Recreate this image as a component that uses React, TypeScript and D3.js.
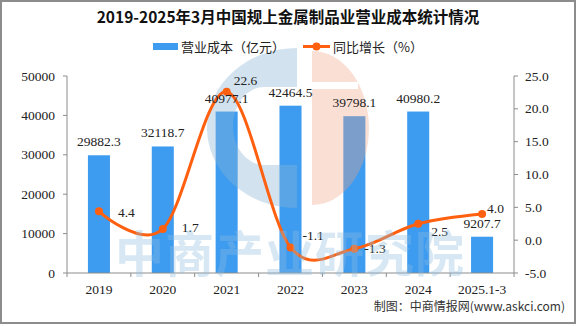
import React from "react";
import * as d3 from "d3";

const categories = ["2019", "2020", "2021", "2022", "2023", "2024", "2025.1-3"];
const costValues = [29882.3, 32118.7, 40977.1, 42464.5, 39798.1, 40980.2, 9207.7];
const growthValues = [4.4, 1.7, 22.6, -1.1, -1.3, 2.5, 4.0];
const leftTicks = [0, 10000, 20000, 30000, 40000, 50000];
const rightTicks = [-5, 0, 5, 10, 15, 20, 25];
// label placement tweaks (dx, dy) relative to point
const growthLabelOffsets: [number, number][] = [[19, 1], [19, -2], [7, -11], [12, -12], [10, 0], [13, 8], [5, -5]];

const W = 576, H = 326;
const left = 67, right = 514, top = 76, bottom = 273;
const numFont = '"Liberation Serif", "Noto Sans CJK SC", serif';
const cjkFont = '"Noto Sans CJK SC", "Liberation Serif", sans-serif';

export default function App() {
  const x = d3.scaleBand<string>().domain(categories).range([left, right]).paddingInner(0.655).paddingOuter(0.3275);
  const yL = d3.scaleLinear().domain([0, 50000]).range([bottom, top]);
  const yR = d3.scaleLinear().domain([-5, 25]).range([bottom, top]);
  const cx = (c: string) => (x(c) as number) + x.bandwidth() / 2;
  const pts: [number, number][] = categories.map((c, i) => [cx(c), yR(growthValues[i])]);
  const line = d3.line().curve(d3.curveCardinal.tension(0))(pts) as string;
  const step = x.step();
  const boundaries = d3.range(categories.length + 1).map((i) => left + i * step);

  const bluePath = "M297,48 A90,80 0 0,0 297,208 Z M297,87 L264,87 A31,39 0 0,0 264,165 L297,165 Z";
  const orangePath = "M312,51 A57,77 0 0,1 312,205 Z M312,82 L358,82 L358,89 L312,89 Z";

  return (
    <svg width={W} height={H} style={{ position: "absolute", left: 0, top: 0, background: "#fff" }}>
      <rect x={1} y={1} width={W - 2} height={H - 4} fill="#fff" stroke="#8c8c8c" strokeWidth={2} />

      {/* bars */}
      {categories.map((c, i) => (
        <rect key={c} x={x(c)} y={yL(costValues[i])} width={x.bandwidth()} height={bottom - yL(costValues[i])} fill="#3d9bf0" />
      ))}

      {/* watermark logo */}
      <path d={bluePath} fill="#8ab6d4" fillRule="evenodd" opacity={0.38} />
      <path d={orangePath} fill="#f2a487" fillRule="evenodd" opacity={0.35} />

      <text x={288} y={23} textAnchor="middle" fontFamily={cjkFont} fontWeight={700} fontSize={15.5} fill="#111">
        2019-2025年3月中国规上金属制品业营业成本统计情况
      </text>
      {/* legend */}
      <rect x={153} y={43} width={25} height={7} fill="#3d9bf0" />
      <text x={181} y={51.5} fontFamily={cjkFont} fontSize={13} fill="#222">营业成本（亿元）</text>
      <line x1={303} x2={330} y1={46.5} y2={46.5} stroke="#ff6010" strokeWidth={3} />
      <circle cx={316.5} cy={46.5} r={4} fill="#ff6010" />
      <text x={333} y={51.5} fontFamily={cjkFont} fontSize={13} fill="#222">同比增长（%）</text>

      {/* axes */}
      <line x1={left} x2={left} y1={top} y2={bottom} stroke="#8c8c8c" />
      <line x1={right} x2={right} y1={top} y2={bottom} stroke="#8c8c8c" />
      <line x1={left} x2={right} y1={bottom} y2={bottom} stroke="#8c8c8c" />
      {leftTicks.map((t) => (
        <g key={"l" + t}>
          <line x1={left - 4} x2={left} y1={yL(t)} y2={yL(t)} stroke="#8c8c8c" />
          <text x={55} y={yL(t) + 4.5} textAnchor="end" fontFamily={numFont} fontSize={13.5} fill="#222">{t}</text>
        </g>
      ))}
      {rightTicks.map((t) => (
        <g key={"r" + t}>
          <line x1={right} x2={right + 4} y1={yR(t)} y2={yR(t)} stroke="#8c8c8c" />
          <text x={525} y={yR(t) + 4.5} fontFamily={numFont} fontSize={13.5} fill="#222">{t.toFixed(1)}</text>
        </g>
      ))}
      {boundaries.map((b, i) => (
        <line key={"b" + i} x1={b} x2={b} y1={bottom} y2={bottom + 4} stroke="#8c8c8c" />
      ))}
      {categories.map((c) => (
        <text key={"x" + c} x={cx(c)} y={294} textAnchor="middle" fontFamily={numFont} fontSize={13.5} fill="#222">{c}</text>
      ))}

      {/* line */}
      <path d={line} fill="none" stroke="#ff6010" strokeWidth={3} />
      {pts.map((p, i) => (
        <circle key={"p" + i} cx={p[0]} cy={p[1]} r={4} fill="#ff6010" />
      ))}

      {/* bar labels */}
      {categories.map((c, i) => (
        <text key={"bl" + c} x={cx(c)} y={yL(costValues[i]) - 9} textAnchor="middle" fontFamily={numFont} fontSize={13.5} fill="#222">
          {costValues[i].toFixed(1)}
        </text>
      ))}
      {/* line labels */}
      {pts.map((p, i) => (
        <text key={"ll" + i} x={p[0] + growthLabelOffsets[i][0]} y={p[1] + growthLabelOffsets[i][1] + 4.5} fontFamily={numFont} fontSize={13.5} fill="#222">
          {growthValues[i].toFixed(1)}
        </text>
      ))}

      {/* watermark text */}
      <text x={290} y={272} textAnchor="middle" fontFamily={cjkFont} fontWeight={700} fontSize={49} fill="#8fbfe0" opacity={0.35} letterSpacing={1}>
        中商产业研究院
      </text>

      <text x={565} y={311} textAnchor="end" fontFamily={cjkFont} fontSize={12} fill="#333">制图：中商情报网(www.askci.com)</text>
    </svg>
  );
}
